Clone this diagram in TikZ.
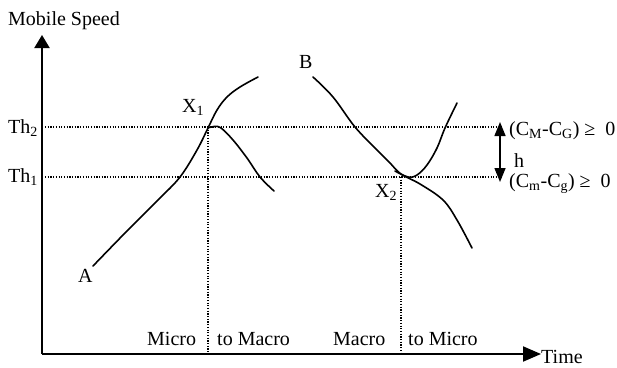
\documentclass[tikz,border=0pt]{standalone}
\usepackage{fontspec}
\setmainfont{Liberation Serif}
\usetikzlibrary{arrows.meta}
\begin{document}
\begin{tikzpicture}[x=1pt,y=-1pt,
  lbl/.style={inner sep=0pt, font=\fontsize{20}{24}\selectfont},
  axis/.style={line width=2pt},
  curve/.style={line width=1.6pt, line join=round, line cap=round},
  guide/.style={line width=1.2pt, dash pattern=on 1.2pt off 1.5pt}]
\useasboundingbox (0,0) rectangle (617,367);
% axes
\coordinate (O) at (42,354);
\coordinate (Ytop) at (42,35);
\coordinate (Xend) at (541,354);
\draw[axis,-{Triangle[length=13pt,width=15pt]}] (O) -- (Ytop);
\draw[axis,-{Triangle[length=18pt,width=15pt]}] (O) -- (Xend);
% threshold lines
\coordinate (T2a) at (45,127);
\coordinate (T2b) at (502,127);
\coordinate (T1a) at (45,177);
\coordinate (T1b) at (502,177);
\draw[guide] (T2a) -- (T2b);
\draw[guide] (T1a) -- (T1b);
% vertical guides
\coordinate (V1t) at (208,127);
\coordinate (V1b) at (208,354);
\coordinate (V2t) at (401,177);
\coordinate (V2b) at (401,354);
\draw[guide] (V1t) -- (V1b);
\draw[guide] (V2t) -- (V2b);
% hysteresis arrow
\coordinate (Ht) at (500,122);
\coordinate (Hb) at (500,182);
\draw[line width=1.5pt,{Triangle[length=14pt,width=11pt]}-{Triangle[length=14pt,width=11pt]}] (Ht) -- (Hb);
% curves
\draw[curve] plot[smooth,tension=0.6] coordinates {(93,266) (125,233) (158,200) (180,177) (197,150) (208,128) (217,110) (227,97) (240,87) (258,77)};
\draw[curve] plot[smooth,tension=0.6] coordinates {(208,128) (214,126.5) (221,128) (233,140) (247,158) (260,177) (274,191)};
\draw[curve] plot[smooth,tension=0.6] coordinates {(313,77) (333,97) (355,127) (377,150) (390,163) (401,174) (420,184) (443,200) (457,220) (472,248)};
\draw[curve] plot[smooth,tension=0.6] coordinates {(395,171) (408,177) (417,175) (427,165) (437,148) (445,128) (457,103)};
% labels
\node[lbl,anchor=base west] (ms) at (8,25) {Mobile Speed};
\node[lbl,anchor=base west] (th2) at (8,133) {Th\textsubscript{2}};
\node[lbl,anchor=base west] (th1) at (8,182) {Th\textsubscript{1}};
\node[lbl,anchor=base west] (x1) at (182,112) {X\textsubscript{1}};
\node[lbl,anchor=base west] (x2) at (375,197) {X\textsubscript{2}};
\node[lbl,anchor=base west] (a) at (78,282) {A};
\node[lbl,anchor=base west] (b) at (299,68) {B};
\node[lbl,anchor=base west] (mi) at (147,345) {Micro};
\node[lbl,anchor=base west] (tma) at (217,345) {to Macro};
\node[lbl,anchor=base west] (ma) at (333,345) {Macro};
\node[lbl,anchor=base west] (tmi) at (408,345) {to Micro};
\node[lbl,anchor=base west] (time) at (541,363) {Time};
\node[lbl,anchor=base west] (cM) at (509,135) {(C\textsubscript{M}-C\textsubscript{G}) ≥ \ 0};
\node[lbl,anchor=base west] (cm) at (509,187) {(C\textsubscript{m}-C\textsubscript{g}) ≥ \ 0};
\node[lbl,anchor=base west] (h) at (514,167) {h};
\end{tikzpicture}
\end{document}
